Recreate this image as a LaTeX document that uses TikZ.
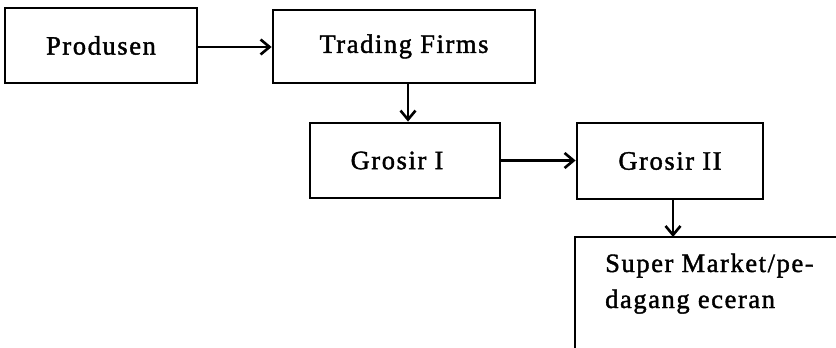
\documentclass[tikz,border=0pt]{standalone}
\usepackage{fontspec}
\setmainfont{Liberation Serif}[LetterSpace=6,FakeBold=1.5]
\usetikzlibrary{arrows.meta}
\begin{document}
\begin{tikzpicture}[x=1pt,y=-1pt,
  txt/.style={font=\fontsize{26.5}{36}\selectfont},
  box/.style={draw,line width=2.8pt,inner sep=0pt,txt},
  conn/.style={line width=2.6pt,-{Straight Barb[length=9pt,width=15pt,line width=2.6pt]}}]
\useasboundingbox (0,0) rectangle (836,348);
\node[box,minimum width=192pt,minimum height=75pt] (prod) at (101,45.5) {Produsen};
\node[box,minimum width=262pt,minimum height=73pt] (trad) at (404,46.5) {Trading Firms};
\node[box,minimum width=190pt,minimum height=75pt] (g1) at (405,160.5) {Grosir I\hspace*{16pt}};
\node[box,minimum width=186pt,minimum height=76pt] (g2) at (670,161) {Grosir II};
\node[draw=none,inner sep=0pt,minimum width=300pt,minimum height=140pt,anchor=north west] (sm) at (575,237) {};
\draw[line width=2.8pt] (sm.north east) -- (sm.north west) -- (sm.south west);
\node[txt,align=left,inner sep=0pt,anchor=base west] (smtext) at (605,308) {Super Market/pe-\\dagang eceran};
\draw[conn] (prod.east |- 0,47) -- (trad.west |- 0,47);
\draw[conn] ([xshift=4pt]trad.south) -- ([xshift=4pt]trad.south |- g1.north);
\draw[conn] (g1.east) -- (g2.west |- g1.east);
\draw[conn] ([xshift=3pt]g2.south) -- ([xshift=3pt]g2.south |- sm.north);
\end{tikzpicture}
\end{document}
